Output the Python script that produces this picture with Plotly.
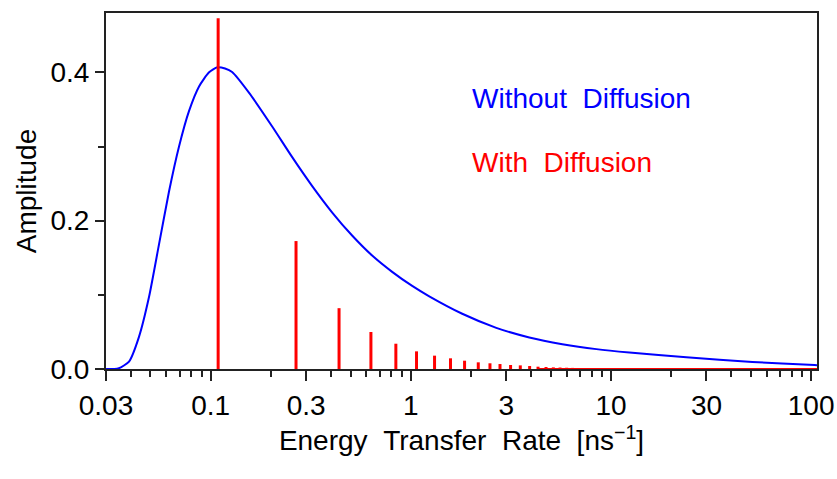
import plotly.graph_objects as go
import math

# Blue curve: Without Diffusion (energy transfer rate distribution)
rate_nodiff = [0.030, 0.0330, 0.0348, 0.0391, 0.0438, 0.0492, 0.0552, 0.0619, 0.0695,
               0.0780, 0.0875, 0.0982, 0.108, 0.118, 0.128, 0.156, 0.203, 0.255, 0.321,
               0.405, 0.509, 0.641, 0.807, 1.016, 1.236, 1.807, 2.673, 3.908, 5.715,
               8.453, 12.36, 23.8, 50.9, 104.0, 107.0]
amp_nodiff = [0.0, 0.0, 0.001, 0.010, 0.043, 0.097, 0.168, 0.239, 0.300,
              0.348, 0.381, 0.400, 0.4068, 0.4052, 0.4005, 0.372, 0.327, 0.286, 0.247,
              0.211, 0.180, 0.153, 0.131, 0.112, 0.098, 0.0745, 0.0555, 0.0425, 0.0335,
              0.0268, 0.0222, 0.0158, 0.0094, 0.0054, 0.0052]

# Red sticks: With Diffusion
rate_diff = [0.109, 0.267, 0.438, 0.632, 0.842, 1.068, 1.314, 1.579, 1.856, 2.173,
             2.486, 2.790, 3.151, 3.524, 3.923, 4.320, 4.737, 5.152, 5.566, 6.005,
             6.435, 6.895, 7.42, 7.95, 8.48, 9.09, 9.63, 10.2, 10.8, 11.45, 12.1,
             12.8, 13.5, 14.3, 15.2, 16.1, 17.0]
amp_diff = [0.473, 0.1725, 0.082, 0.0499, 0.0341, 0.0238, 0.0180, 0.0144, 0.0112, 0.0090,
            0.0077, 0.0067, 0.0054, 0.0049, 0.0040, 0.0031, 0.0027, 0.0022, 0.0020, 0.0017,
            0.0015, 0.0013, 0.0012, 0.0011, 0.0010, 0.0009, 0.0008, 0.0007, 0.0007, 0.0006,
            0.0006, 0.0005, 0.0005, 0.0004, 0.0004, 0.0004, 0.0003]
red_baseline_x = [4.3, 107.0]
red_baseline_y = [0.0, 0.0]

x_tickvals = [0.03, 0.1, 0.3, 1, 3, 10, 30, 100]
x_ticktext = ["0.03", "0.1", "0.3", "1", "3", "10", "30", "100"]
y_tickvals = [0.0, 0.2, 0.4]
y_ticktext = ["0.0", "0.2", "0.4"]
y_minor = [0.1, 0.3]

x_minor = []
for dec in [0.01, 0.1, 1, 10]:
    for m in range(2, 10):
        v = round(m * dec, 6)
        if 0.03 < v < 100 and v not in x_tickvals:
            x_minor.append(v)

stem_x, stem_y = [], []
for xv, yv in zip(rate_diff, amp_diff):
    stem_x += [xv, xv, None]
    stem_y += [0, yv, None]

FONT = "Liberation Sans, Arial, sans-serif"
FS = 28

fig = go.Figure()
fig.add_trace(go.Scatter(x=rate_nodiff, y=amp_nodiff, mode="lines",
                         line=dict(color="#0000ff", width=2, shape="spline", smoothing=0.6),
                         showlegend=False, hoverinfo="skip"))
fig.add_trace(go.Scatter(x=red_baseline_x, y=red_baseline_y, mode="lines",
                         line=dict(color="#ff0000", width=2), showlegend=False, hoverinfo="skip"))
fig.add_trace(go.Scatter(x=stem_x, y=stem_y, mode="lines",
                         line=dict(color="#ff0000", width=3), showlegend=False, hoverinfo="skip"))

fig.update_layout(
    width=837, height=479,
    margin=dict(l=106, r=20, t=13, b=110, autoexpand=False),
    paper_bgcolor="white", plot_bgcolor="white",
    font=dict(family=FONT, size=FS, color="black"),
    xaxis=dict(
        type="log", range=[math.log10(0.03), math.log10(107)],
        tickmode="array", tickvals=x_tickvals, ticktext=x_ticktext,
        ticks="outside", ticklen=10, tickwidth=1.5, tickcolor="#222",
        showline=True, linecolor="#222", linewidth=2, mirror=True,
        showgrid=False, zeroline=False, layer="below traces", automargin=False,
        tickfont=dict(size=FS),
        minor=dict(tickmode="array", tickvals=x_minor, ticks="outside", ticklen=6,
                   tickwidth=1.5, tickcolor="#222", showgrid=False),
        title=dict(text="Energy\u00a0\u00a0Transfer\u00a0\u00a0Rate\u00a0\u00a0[ns<sup>\u22121</sup>]",
                   font=dict(size=FS), standoff=2),
    ),
    yaxis=dict(
        range=[0, 0.48],
        tickmode="array", tickvals=y_tickvals, ticktext=y_ticktext,
        ticks="outside", ticklen=9, tickwidth=1.5, tickcolor="#222",
        showline=True, linecolor="#222", linewidth=2, mirror=True,
        showgrid=False, zeroline=False, layer="below traces", automargin=False,
        tickfont=dict(size=FS),
        minor=dict(tickmode="array", tickvals=y_minor, ticks="outside", ticklen=6,
                   tickwidth=1.5, tickcolor="#222", showgrid=False),
        title=dict(text="Amplitude", font=dict(size=FS), standoff=6),
    ),
    annotations=[
        dict(text="Without\u00a0\u00a0Diffusion", xref="paper", yref="paper",
             x=0.512, y=0.761, xanchor="left", yanchor="middle", showarrow=False,
             font=dict(size=FS, color="#0000ff")),
        dict(text="With\u00a0\u00a0Diffusion", xref="paper", yref="paper",
             x=0.512, y=0.579, xanchor="left", yanchor="middle", showarrow=False,
             font=dict(size=FS, color="#ff0000")),
    ],
)

fig.write_html("out.html")
